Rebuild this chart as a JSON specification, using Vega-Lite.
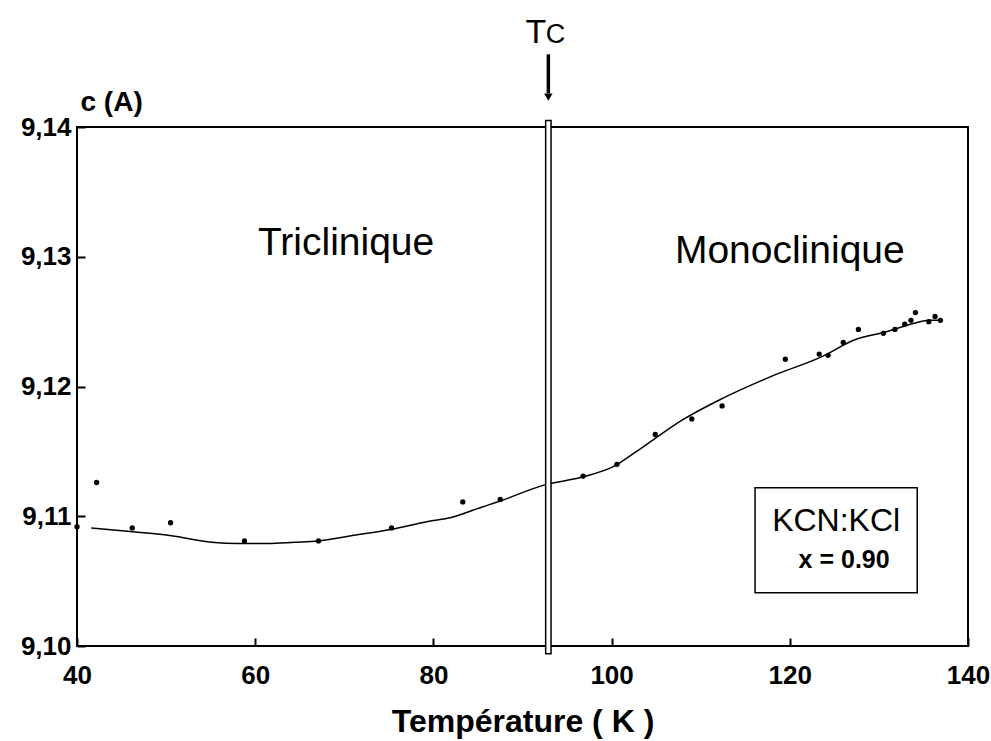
{
  "$schema": "https://vega.github.io/schema/vega-lite/v6.json",
  "width": 891,
  "height": 519,
  "autosize": {"type": "none"},
  "padding": {"left": 77, "top": 127, "right": 23, "bottom": 95},
  "background": "white",
  "config": {
    "view": {"stroke": "black", "strokeWidth": 2},
    "font": "Liberation Sans"
  },
  "layer": [
    {
      "data": {"values": [
        {"T": 41.6, "c": 9.1091}, {"T": 46.3, "c": 9.1088}, {"T": 50.6, "c": 9.1085},
        {"T": 55.1, "c": 9.1080}, {"T": 58.1, "c": 9.1079}, {"T": 61.4, "c": 9.1079},
        {"T": 64.4, "c": 9.1080}, {"T": 67.0, "c": 9.1081}, {"T": 70.8, "c": 9.1085},
        {"T": 75.3, "c": 9.1090}, {"T": 79.4, "c": 9.1096}, {"T": 82.0, "c": 9.1099},
        {"T": 85.4, "c": 9.1107}, {"T": 87.6, "c": 9.1112}, {"T": 92.4, "c": 9.1124},
        {"T": 96.6, "c": 9.1130}, {"T": 100.4, "c": 9.1139}, {"T": 102.6, "c": 9.1149},
        {"T": 104.9, "c": 9.1160}, {"T": 107.9, "c": 9.1174}, {"T": 112.5, "c": 9.1191},
        {"T": 118.0, "c": 9.1208}, {"T": 123.6, "c": 9.1223}, {"T": 127.3, "c": 9.1236},
        {"T": 130.7, "c": 9.1242}, {"T": 134.1, "c": 9.1249}, {"T": 135.6, "c": 9.1251},
        {"T": 136.9, "c": 9.1251}
      ]},
      "mark": {"type": "line", "color": "black", "strokeWidth": 1.5, "interpolate": "monotone"},
      "encoding": {
        "x": {
          "field": "T", "type": "quantitative",
          "scale": {"domain": [40, 140], "nice": false, "zero": false},
          "axis": {
            "values": [40, 60, 80, 100, 120, 140],
            "grid": false, "domain": false,
            "tickSize": -8, "tickColor": "black", "tickWidth": 2,
            "labelFont": "Liberation Sans", "labelFontWeight": "bold", "labelFontSize": 26,
            "labelColor": "black", "labelPadding": 24, "labelFlush": false,
            "title": "Température ( K )",
            "titleFont": "Liberation Sans", "titleFontWeight": "bold", "titleFontSize": 32,
            "titleColor": "black", "titleBaseline": "alphabetic", "titleY": 85
          }
        },
        "y": {
          "field": "c", "type": "quantitative",
          "scale": {"domain": [9.10, 9.14], "nice": false, "zero": false},
          "axis": {
            "values": [9.10, 9.11, 9.12, 9.13, 9.14],
            "labelExpr": "replace(format(datum.value, '.2f'), '.', ',')",
            "grid": false, "domain": false,
            "tickSize": -8, "tickColor": "black", "tickWidth": 2,
            "labelFont": "Liberation Sans", "labelFontWeight": "bold", "labelFontSize": 26,
            "labelColor": "black", "labelPadding": 14, "labelFlush": false,
            "title": "c (A)",
            "titleFont": "Liberation Sans", "titleFontWeight": "bold", "titleFontSize": 28,
            "titleColor": "black", "titleAngle": 0, "titleAlign": "left",
            "titleBaseline": "alphabetic", "titleX": 3, "titleY": -17
          }
        }
      }
    },
    {
      "data": {"values": [
        {"T": 40.0, "c": 9.1092}, {"T": 42.2, "c": 9.1126}, {"T": 46.2, "c": 9.1091},
        {"T": 50.5, "c": 9.1095}, {"T": 58.8, "c": 9.1081}, {"T": 67.1, "c": 9.1081},
        {"T": 75.3, "c": 9.1091}, {"T": 83.3, "c": 9.1111}, {"T": 87.5, "c": 9.1113},
        {"T": 96.8, "c": 9.1131}, {"T": 100.6, "c": 9.1140}, {"T": 104.9, "c": 9.1163},
        {"T": 109.0, "c": 9.1175}, {"T": 112.4, "c": 9.1185}, {"T": 119.5, "c": 9.1221},
        {"T": 123.3, "c": 9.1225}, {"T": 124.3, "c": 9.1224}, {"T": 126.0, "c": 9.1234},
        {"T": 127.7, "c": 9.1244}, {"T": 130.5, "c": 9.1241}, {"T": 131.8, "c": 9.1244},
        {"T": 132.9, "c": 9.1248}, {"T": 133.6, "c": 9.1251}, {"T": 134.1, "c": 9.1257},
        {"T": 135.6, "c": 9.1250}, {"T": 136.3, "c": 9.1254}, {"T": 136.9, "c": 9.1251}
      ]},
      "mark": {"type": "circle", "color": "black", "size": 28, "opacity": 1},
      "encoding": {
        "x": {"field": "T", "type": "quantitative"},
        "y": {"field": "c", "type": "quantitative"}
      }
    },
    {
      "data": {"values": [{"T1": 92.6, "T2": 93.2, "c1": 9.0994, "c2": 9.1405}]},
      "mark": {"type": "rect", "fill": "white", "stroke": "black", "strokeWidth": 1.5},
      "encoding": {
        "x": {"field": "T1", "type": "quantitative"},
        "x2": {"field": "T2"},
        "y": {"field": "c1", "type": "quantitative"},
        "y2": {"field": "c2"}
      }
    },
    {
      "data": {"values": [{"T1": 116.1, "T2": 134.3, "c1": 9.1041, "c2": 9.1122}]},
      "mark": {"type": "rect", "fill": "white", "stroke": "black", "strokeWidth": 1.5},
      "encoding": {
        "x": {"field": "T1", "type": "quantitative"},
        "x2": {"field": "T2"},
        "y": {"field": "c1", "type": "quantitative"},
        "y2": {"field": "c2"}
      }
    },
    {
      "data": {"values": [{"T": 92.9, "c1": 9.1426, "c2": 9.1456}]},
      "mark": {"type": "rule", "color": "black", "strokeWidth": 3.5},
      "encoding": {
        "x": {"field": "T", "type": "quantitative"},
        "y": {"field": "c1", "type": "quantitative"},
        "y2": {"field": "c2"}
      }
    },
    {
      "data": {"values": [{"T": 92.9, "c": 9.1423}]},
      "mark": {"type": "point", "shape": "triangle-down", "filled": true, "color": "black", "size": 70, "opacity": 1},
      "encoding": {
        "x": {"field": "T", "type": "quantitative"},
        "y": {"field": "c", "type": "quantitative"}
      }
    },
    {
      "data": {"values": [{"T": 91.5, "c": 9.1465, "label": "T"}]},
      "mark": {"type": "text", "font": "Liberation Sans", "fontSize": 34, "fontWeight": "normal", "color": "black", "align": "center", "baseline": "alphabetic"},
      "encoding": {
        "x": {"field": "T", "type": "quantitative"},
        "y": {"field": "c", "type": "quantitative"},
        "text": {"field": "label"}
      }
    },
    {
      "data": {"values": [{"T": 93.7, "c": 9.1465, "label": "C"}]},
      "mark": {"type": "text", "font": "Liberation Sans", "fontSize": 27, "fontWeight": "normal", "color": "black", "align": "center", "baseline": "alphabetic"},
      "encoding": {
        "x": {"field": "T", "type": "quantitative"},
        "y": {"field": "c", "type": "quantitative"},
        "text": {"field": "label"}
      }
    },
    {
      "data": {"values": [
        {"T": 70.2, "c": 9.1301, "label": "Triclinique"},
        {"T": 120.0, "c": 9.1295, "label": "Monoclinique"}
      ]},
      "mark": {"type": "text", "font": "Liberation Sans", "fontSize": 39, "fontWeight": "normal", "color": "black", "align": "center", "baseline": "alphabetic"},
      "encoding": {
        "x": {"field": "T", "type": "quantitative"},
        "y": {"field": "c", "type": "quantitative"},
        "text": {"field": "label"}
      }
    },
    {
      "data": {"values": [{"T": 125.2, "c": 9.1089, "label": "KCN:KCl"}]},
      "mark": {"type": "text", "font": "Liberation Sans", "fontSize": 32, "fontWeight": "normal", "color": "black", "align": "center", "baseline": "alphabetic"},
      "encoding": {
        "x": {"field": "T", "type": "quantitative"},
        "y": {"field": "c", "type": "quantitative"},
        "text": {"field": "label"}
      }
    },
    {
      "data": {"values": [{"T": 126.1, "c": 9.1060, "label": "x = 0.90"}]},
      "mark": {"type": "text", "font": "Liberation Sans", "fontSize": 25, "fontWeight": "bold", "color": "black", "align": "center", "baseline": "alphabetic"},
      "encoding": {
        "x": {"field": "T", "type": "quantitative"},
        "y": {"field": "c", "type": "quantitative"},
        "text": {"field": "label"}
      }
    }
  ]
}
